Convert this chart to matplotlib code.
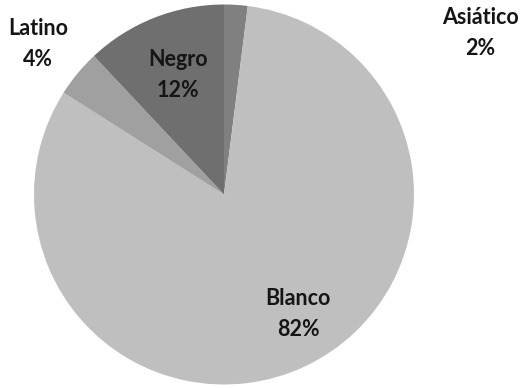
import matplotlib.pyplot as plt

# Ethnic composition, read clockwise from 12 o'clock
groups = ["Asiático", "Blanco", "Latino", "Negro"]
shares = [2, 82, 4, 12]
colors = ["#808080", "#bfbfbf", "#a0a0a0", "#6f6f6f"]

# where each label sits (data units, pie radius = 1)
label_xy = [(1.35, 0.85), (0.39, -0.63), (-0.98, 0.79), (-0.24, 0.63)]

fig = plt.figure(figsize=(5.23, 3.89), dpi=100)
W, H = 523, 389
cx, cy, r = 224, 194.5, 190
ax = fig.add_axes([(cx - r) / W, (H - cy - r) / H, 2 * r / W, 2 * r / H])

ax.pie(shares, colors=colors, startangle=90, counterclock=False,
       radius=1, wedgeprops=dict(linewidth=0))

for name, val, (x, y) in zip(groups, shares, label_xy):
    ax.text(x, y, f"{name}\n{val}%", ha="center", va="center",
            fontsize=15.5, fontweight="bold", family=["Lato", "DejaVu Sans"],
            color="#151515", linespacing=1.6, clip_on=False)

ax.set_xlim(-1, 1)
ax.set_ylim(-1, 1)
ax.set_aspect("equal")
ax.axis("off")

fig.savefig("out.png", dpi=100)
